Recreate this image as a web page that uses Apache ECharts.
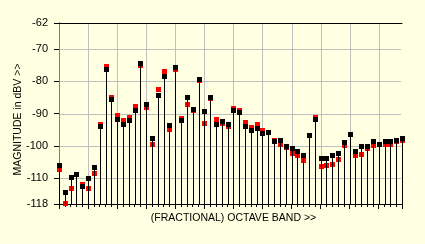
<!DOCTYPE html>
<html><head><meta charset="utf-8">
<script src="https://cdn.jsdelivr.net/npm/echarts@6/dist/echarts.min.js"></script>
<style>html,body{margin:0;padding:0;background:#ffffe1}#c{width:425px;height:244px}</style>
</head><body><div id="c"></div>
<script>
const bands = [0,1,2,3,4,5,6,7,8,9,10,11,12,13,14,15,16,17,18,19,20,21,22,23,24,25,26,27,28,29,
  30,31,32,33,34,35,36,37,38,39,40,41,42,43,44,45,46,47,48,49,50,51,52,53,54,55,56,57,58,59];
const blackValues = [-106,-114.2,-109.7,-108.8,-112.4,-110,-106.6,-94,-76.1,-85.6,
  -91.6,-93.1,-92.1,-88.8,-74.4,-87,-97.5,-84.4,-78.3,-93.5,
  -75.7,-92.1,-84.8,-88.5,-79.2,-89.1,-84.8,-93.4,-92.2,-93.2,
  -89,-89.6,-94,-95.2,-94.4,-96.1,-95.6,-98.6,-98.1,-100.1,
  -100.6,-101.6,-102.8,-96.6,-91.8,-103.8,-103.8,-102.8,-102.2,-98.8,
  -96.3,-101.6,-100,-100,-98.4,-99.4,-98.4,-98.4,-98.1,-97.5];
const redValues = [-107.3,-117.6,-113.1,-108.8,-111.7,-113.1,-108.4,-93.3,-75.4,-84.8,
  -90.6,-92.1,-91,-87.7,-74.9,-87.9,-99.4,-82.5,-76.9,-94.8,
  -76.1,-91.4,-87.2,-89,-79.6,-92.8,-85.3,-91.7,-92.8,-93.9,
  -88.3,-89,-92.5,-94.3,-93.2,-95,-95.6,-98.1,-99.3,-100.5,
  -102.2,-102.8,-104.3,-96.6,-91,-106.3,-105.8,-105.5,-104,-99.8,
  -96.3,-102.8,-102.4,-100.6,-99.7,-99.4,-99.5,-99.4,-98.6,-98.1];
const yTicks = [-118,-110,-100,-90,-80,-70,-62];
const xTicks = [0,5,10,15,20,25,30,35,40,45,50,55,59];
const xGridValues = [5,10,15,20,25,30,35,40,45,50,55];
const yGridValues = [-110,-100,-90,-80,-70];
const yMin = -118, yMax = -62;
const xMin = 0, xMax = 59;

const font = {fontFamily:'"Liberation Sans", Arial, sans-serif', fontSize:10.5, color:'#000'};
const chart = echarts.init(document.getElementById('c'), null, {renderer:'canvas'});

function sq(pt, color){
  const cx = Math.round(pt[0]), cy = Math.round(pt[1]);
  return {type:'rect', shape:{x:cx-2, y:cy-2, width:5, height:5}, style:{fill:color}};
}
const gridColor = '#c0c0c0';

chart.setOption({
  backgroundColor:'#ffffe1',
  animation:false,
  grid:{left:59, top:23, right:23, bottom:40},
  xAxis:[
    {type:'value', min:xMin, max:xMax, interval:5, position:'bottom',
     axisLine:{show:true, lineStyle:{color:'#000', width:1}},
     axisTick:{show:true, length:5, customValues:xTicks, lineStyle:{color:'#000'}},
     axisLabel:{show:false},
     splitLine:{show:false},
     name:'(FRACTIONAL) OCTAVE BAND >>', nameLocation:'middle', nameGap:9, nameMoveOverlap:false,
     nameTextStyle:Object.assign({padding:[0,0,0,6]}, font)},
    {type:'value', min:xMin, max:xMax, interval:1, position:'bottom',
     axisLine:{show:false}, axisTick:{show:true, length:3, lineStyle:{color:'#000'}},
     axisLabel:{show:false}, splitLine:{show:false}},
    {type:'value', min:xMin, max:xMax, interval:5, position:'top',
     axisLine:{show:true, lineStyle:{color:'#000', width:1}}, axisTick:{show:false},
     axisLabel:{show:false}, splitLine:{show:false}}
  ],
  yAxis:[
    {type:'value', min:yMin, max:yMax,
     axisLine:{show:true, lineStyle:{color:'#000', width:1}},
     axisTick:{show:true, length:5, customValues:yTicks, lineStyle:{color:'#000'}},
     axisLabel:Object.assign({customValues:yTicks, margin:11}, font, {fontSize:11}),
     splitLine:{show:false},
     name:'MAGNITUDE in dBV >>', nameLocation:'middle', nameGap:35, nameRotate:90, nameMoveOverlap:false,
     nameTextStyle:Object.assign({padding:[0,12,0,0]}, font)},
    {type:'value', min:yMin, max:yMax, position:'right',
     axisLine:{show:true, lineStyle:{color:'#808080', width:1}},
     axisTick:{show:false}, axisLabel:{show:false}, splitLine:{show:false}}
  ],
  series:[
    {type:'custom', name:'xgrid', xAxisIndex:0, yAxisIndex:0, z:1, silent:true,
     data: xGridValues.map(v=>[v, yMax]),
     renderItem:(params, api)=>{
       const t = api.coord([api.value(0), yMax]);
       const b = api.coord([api.value(0), yMin]);
       const px = Math.round(t[0]) + 0.5;
       return {type:'line', shape:{x1:px, y1:Math.round(t[1])+1, x2:px, y2:Math.round(b[1])-1},
               style:{stroke:gridColor, lineWidth:1}};
     }},
    {type:'custom', name:'ygrid', xAxisIndex:0, yAxisIndex:0, z:1, silent:true,
     data: yGridValues.map(v=>[xMin, v]),
     renderItem:(params, api)=>{
       const l = api.coord([xMin, api.value(1)]);
       const r = api.coord([xMax, api.value(1)]);
       const py = Math.round(l[1]) + 0.5;
       return {type:'line', shape:{x1:Math.round(l[0])+1, y1:py, x2:Math.round(r[0])-1, y2:py},
               style:{stroke:gridColor, lineWidth:1}};
     }},
    {type:'custom', name:'red', xAxisIndex:0, yAxisIndex:0, z:3,
     data: bands.map((b,i)=>[b, redValues[i]]),
     renderItem:(params, api)=> sq(api.coord([api.value(0), api.value(1)]), '#ff0000')},
    {type:'custom', name:'black', xAxisIndex:0, yAxisIndex:0, z:4,
     data: bands.map((b,i)=>[b, blackValues[i]]),
     renderItem:(params, api)=>{
       const top = api.coord([api.value(0), api.value(1)]);
       const bot = api.coord([api.value(0), yMin]);
       const px = Math.round(top[0]) + 0.5;
       return {type:'group', children:[
         {type:'line', shape:{x1:px, y1:Math.round(bot[1]), x2:px, y2:top[1]}, style:{stroke:'#000', lineWidth:1}},
         sq(top, '#000')
       ]};
     }}
  ]
});
</script></body></html>
